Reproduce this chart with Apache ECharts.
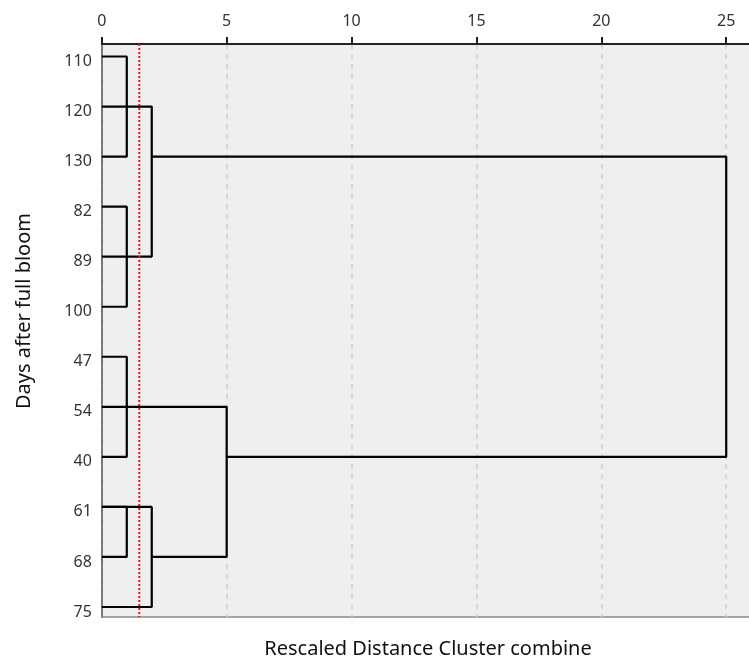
<!DOCTYPE html>
<html>
<head>
<meta charset="utf-8">
<script src="https://cdn.jsdelivr.net/npm/echarts@6/dist/echarts.min.js"></script>
<style>
html,body{margin:0;padding:0;background:#fff;}
#chart{width:749px;height:662px;}
</style>
</head>
<body>
<div id="chart"></div>
<script>
// Leaf labels, top to bottom
const rowLabels = ['110','120','130','82','89','100','47','54','40','61','68','75'];
// Merges: [rowA, startA, rowB, startB, mergeDistance]
const merges = [
  [0, 0, 2, 0, 1],
  [3, 0, 5, 0, 1],
  [1, 0, 4, 0, 2],
  [6, 0, 8, 0, 1],
  [9, 0, 10, 0, 1],
  [9, 0, 11, 0, 2],
  [7, 0, 10, 2, 5],
  [2, 2, 8, 5, 25]
];
// Cut-off line (rescaled distance)
const cutoff = 1.5;
const xTicks = [0, 5, 10, 15, 20, 25];

const yMin = -0.25, yMax = 11.2;

const series = merges.map(m => ({
  type: 'line',
  data: [[m[1], m[0]], [m[4], m[0]], [m[4], m[2]], [m[3], m[2]]],
  symbol: 'none',
  silent: true,
  lineStyle: {color: '#000', width: 2.2},
  z: 3
}));
series.push({
  type: 'line',
  data: [[cutoff, yMin], [cutoff, yMax]],
  symbol: 'none',
  silent: true,
  lineStyle: {color: '#e8141b', width: 2, type: [2, 2]},
  z: 4
});

const chart = echarts.init(document.getElementById('chart'), null, {renderer: 'canvas'});
chart.setOption({
  animation: false,
  backgroundColor: '#ffffff',
  grid: {
    left: 101.8, top: 44, width: 649.4, height: 573,
    outerBoundsMode: 'none', containLabel: false,
    show: true, backgroundColor: '#efefef', borderColor: '#8a8a8a', borderWidth: 1.5
  },
  xAxis: {
    type: 'value', position: 'top', min: 0, max: 26, interval: 5,
    axisLine: {show: true, onZero: false, lineStyle: {color: '#222', width: 2}},
    axisTick: {show: true, length: 7, lineStyle: {color: '#222', width: 2}},
    axisLabel: {
      margin: 15, fontSize: 16, color: '#333', fontFamily: 'Noto Sans',
      formatter: v => xTicks.includes(v) ? String(v) : ''
    },
    splitLine: {show: true, lineStyle: {color: '#cfcfcf', width: 1.5, type: [5, 5]}}
  },
  yAxis: {
    type: 'value', inverse: true, min: yMin, max: yMax, interval: 0.25,
    axisLine: {show: true, onZero: false, lineStyle: {color: '#666', width: 1.5}},
    axisTick: {show: false},
    splitLine: {show: false},
    axisLabel: {
      margin: 10, fontSize: 16, color: '#333', fontFamily: 'Noto Sans',
      verticalAlign: 'top', lineHeight: 10,
      formatter: v => (Number.isInteger(v) && v >= 0 && v < rowLabels.length) ? rowLabels[v] : ''
    }
  },
  graphic: [
    {type: 'text', x: 428, y: 649,
     style: {text: 'Rescaled Distance Cluster combine', font: '20px "Noto Sans"', fill: '#111', align: 'center', verticalAlign: 'middle'}},
    {type: 'text', x: 24, y: 311, rotation: Math.PI / 2,
     style: {text: 'Days after full bloom', font: '20px "Noto Sans"', fill: '#111', align: 'center', verticalAlign: 'middle'}}
  ],
  series: series
});
</script>
</body>
</html>
